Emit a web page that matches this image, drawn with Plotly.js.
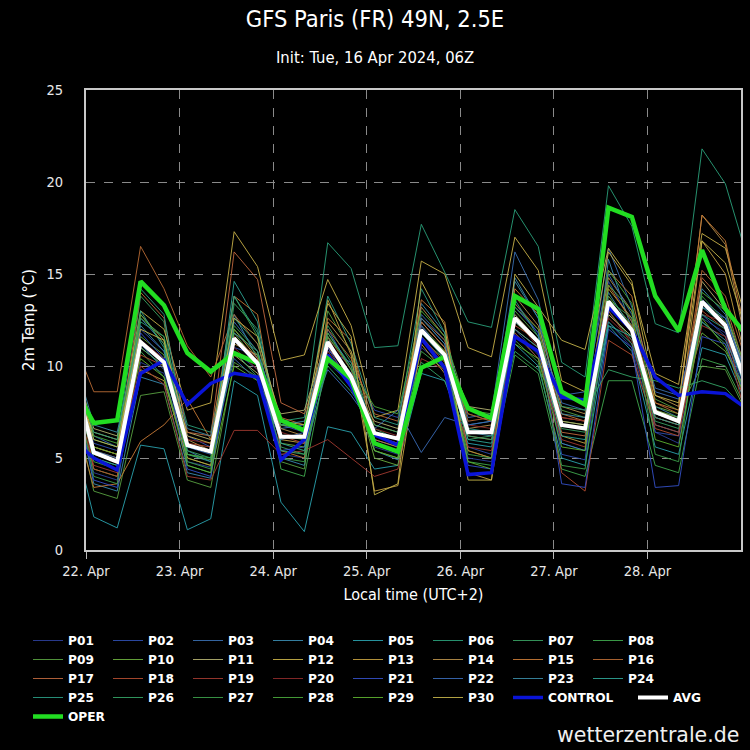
<!DOCTYPE html>
<html>
<head>
<meta charset="utf-8">
<script src="https://cdn.plot.ly/plotly-3.0.1.min.js"></script>
<style>html,body{margin:0;padding:0;background:#000;}#chart{width:750px;height:750px;}</style>
</head>
<body>
<div id="chart"></div>
<script>
// ---- DATA (local time UTC+2, 6-hourly) ----
const times = ['2024-04-21 20:00',
  '2024-04-22 02:00','2024-04-22 08:00','2024-04-22 14:00','2024-04-22 20:00',
  '2024-04-23 02:00','2024-04-23 08:00','2024-04-23 14:00','2024-04-23 20:00',
  '2024-04-24 02:00','2024-04-24 08:00','2024-04-24 14:00','2024-04-24 20:00',
  '2024-04-25 02:00','2024-04-25 08:00','2024-04-25 14:00','2024-04-25 20:00',
  '2024-04-26 02:00','2024-04-26 08:00','2024-04-26 14:00','2024-04-26 20:00',
  '2024-04-27 02:00','2024-04-27 08:00','2024-04-27 14:00','2024-04-27 20:00',
  '2024-04-28 02:00','2024-04-28 08:00','2024-04-28 14:00','2024-04-28 20:00',
  '2024-04-29 02:00'];

const P01 = [9.0,4.2,3.8,10.2,9.6,4.8,4.5,10.8,9.8,5.2,5.0,10.2,9.0,5.6,5.2,11.0,10.0,5.0,4.8,12.0,10.6,5.8,5.4,12.4,11.0,6.4,5.8,12.6,11.8,8.2];
const P02 = [10.5,5.8,5.4,12.0,10.8,6.2,5.6,11.0,10.6,6.8,6.4,10.8,10.2,7.6,7.2,12.6,11.2,5.6,5.2,13.4,11.8,5.2,4.9,14.6,12.4,6.4,6.2,12.8,11.6,8.0];
const P03 = [11.0,6.2,5.6,12.6,11.2,5.4,4.8,12.4,10.8,6.6,6.8,12.0,9.8,6.0,5.6,12.8,11.4,7.2,7.4,16.2,13.6,8.0,7.6,16.4,13.2,8.8,8.4,13.2,12.6,9.4];
const P04 = [9.8,3.6,3.2,9.4,9.0,4.2,3.9,12.8,10.4,5.0,4.6,11.4,9.2,5.4,4.9,13.4,11.8,6.8,7.0,14.8,12.6,5.8,5.4,15.8,12.0,6.8,6.4,14.2,12.8,8.8];
const P05 = [7.0,1.8,1.2,5.7,5.5,1.1,1.7,9.2,8.4,2.6,1.0,6.7,6.4,4.4,4.6,9.6,9.2,5.8,5.6,11.2,10.0,5.0,4.6,12.2,10.8,5.6,5.2,11.0,10.6,7.6];
const P06 = [10.0,6.0,5.6,12.4,11.6,6.8,6.4,12.6,11.2,7.0,7.2,16.7,15.3,11.0,11.1,17.7,15.1,12.4,12.1,18.5,16.5,10.2,9.4,19.8,17.6,12.3,11.8,21.8,19.9,15.6];
const P07 = [9.4,5.0,4.6,13.8,12.4,4.6,4.2,13.4,12.0,5.6,5.2,12.2,10.2,6.6,6.0,11.4,10.4,6.0,6.2,11.8,10.4,6.6,6.4,13.0,11.4,7.0,6.6,12.4,11.2,8.0];
const P08 = [10.6,4.8,4.4,10.8,9.4,5.2,5.0,13.8,11.6,4.4,4.0,10.6,8.8,6.2,5.8,10.8,9.8,4.8,4.6,10.6,9.6,4.4,4.0,9.2,9.2,4.6,4.2,10.4,10.0,7.4];
const P09 = [8.8,3.2,2.8,8.4,8.6,3.8,3.4,10.2,9.4,4.8,4.4,13.0,10.8,5.4,5.0,12.2,10.8,7.4,7.0,13.0,11.6,7.6,7.2,12.8,11.6,8.2,7.6,10.0,9.8,7.2];
const P10 = [9.6,4.4,4.0,11.6,10.6,5.0,4.6,11.8,10.2,5.8,5.6,10.4,9.6,5.0,4.6,11.6,10.2,5.4,5.0,12.4,11.2,7.0,6.8,13.8,12.2,7.8,7.4,11.8,10.8,8.4];
const P11 = [10.8,6.6,6.2,11.0,10.0,6.4,6.0,10.6,9.6,7.4,7.6,11.6,9.0,7.0,6.6,12.4,11.0,7.8,7.6,12.8,11.4,7.0,6.8,12.8,11.6,7.4,7.0,14.6,13.0,9.0];
const P12 = [9.0,6.4,6.0,13.0,12.0,7.6,8.0,17.3,15.4,10.3,10.6,14.7,12.2,7.2,7.6,15.7,15.0,11.0,10.5,17.0,15.2,9.2,8.6,16.2,14.4,9.6,9.0,17.2,16.4,12.0];
const P13 = [11.5,5.6,5.2,9.8,9.2,5.0,4.6,12.0,10.4,6.0,5.8,13.6,10.6,3.2,3.5,11.2,9.6,4.2,3.8,11.6,10.8,6.2,5.8,14.2,12.6,7.2,6.8,16.8,15.0,9.6];
const P14 = [10.4,5.4,5.0,12.8,11.4,6.0,5.4,11.2,10.6,6.6,6.2,12.4,10.8,6.8,6.4,13.2,11.6,6.6,6.8,13.8,12.2,7.8,7.4,14.8,13.0,8.4,7.8,18.2,16.6,10.4];
const P15 = [8.0,3.4,3.6,5.9,6.8,8.2,6.0,13.8,12.8,5.4,5.0,12.6,11.4,6.0,5.6,13.6,12.4,5.4,5.0,14.2,12.8,7.4,7.0,15.2,13.8,8.0,7.6,18.2,16.8,11.0];
const P16 = [11.8,8.6,8.6,16.5,14.2,11.1,9.4,12.8,11.2,7.2,6.8,12.0,10.4,7.4,7.0,12.6,11.4,7.0,7.2,13.4,12.0,7.2,7.0,14.4,12.4,8.0,7.4,15.2,13.8,9.8];
const P17 = [10.0,5.6,5.2,14.0,12.6,6.4,6.2,16.2,14.7,8.0,7.4,11.0,9.4,5.8,5.4,12.4,11.0,6.2,6.0,12.0,11.0,6.4,6.2,13.4,12.2,7.6,7.2,14.8,13.4,9.2];
const P18 = [11.0,4.4,4.0,10.6,10.0,5.8,5.6,11.6,10.4,6.2,5.8,11.6,9.8,6.2,5.8,12.0,10.8,7.4,7.0,12.2,11.4,4.2,3.2,11.4,10.6,6.6,6.2,13.0,12.0,7.0];
const P19 = [9.2,4.6,4.2,10.0,9.0,4.0,3.8,6.5,6.5,5.2,5.4,6.0,5.0,4.0,4.4,10.4,9.8,5.6,5.4,11.8,10.4,6.0,5.6,13.0,11.2,6.8,6.4,12.2,11.6,6.6];
const P20 = [10.6,5.2,4.8,11.4,10.4,6.0,5.8,11.0,9.8,6.4,6.0,10.8,9.2,6.6,6.2,11.6,10.2,6.8,6.6,12.6,11.0,7.2,7.0,12.6,11.4,7.2,6.8,12.8,12.4,8.4];
const P21 = [9.4,3.8,3.4,11.8,10.4,4.4,4.0,11.4,10.0,5.4,5.6,11.0,9.0,5.8,5.4,12.2,10.6,4.6,4.4,13.2,11.8,3.6,3.4,12.0,11.0,3.4,3.5,11.6,11.2,7.8];
const P22 = [10.2,5.4,5.0,11.2,9.8,5.6,5.2,10.4,9.2,6.0,6.4,9.8,8.4,6.6,7.6,5.3,7.2,6.8,7.0,12.4,11.4,8.4,8.6,15.0,12.8,8.6,8.2,13.6,12.6,9.2];
const P23 = [11.2,6.8,6.4,12.2,10.8,6.6,6.2,11.8,10.8,6.8,7.0,11.8,10.0,6.4,6.0,12.6,11.2,6.4,6.2,14.6,12.6,7.4,7.2,14.0,12.0,7.8,7.2,12.4,11.4,8.6];
const P24 = [9.8,5.0,4.6,13.0,11.0,5.2,4.8,14.6,12.4,5.8,5.4,11.2,9.6,6.4,6.0,11.8,10.4,6.0,5.8,12.0,11.0,6.2,6.0,12.2,11.6,7.2,6.8,13.2,12.2,8.8];
const P25 = [10.4,6.4,6.0,14.2,12.8,5.6,5.4,13.8,11.8,6.8,6.6,13.8,11.2,7.2,6.8,14.2,11.8,6.6,6.4,13.6,11.6,6.8,6.6,12.4,11.2,7.4,7.0,12.8,12.0,8.2];
const P26 = [9.2,5.2,4.8,11.0,10.0,5.4,5.0,10.8,9.4,5.4,5.2,10.0,8.6,6.8,6.4,10.2,9.2,6.2,6.0,10.8,9.8,7.8,7.6,9.8,9.4,9.2,8.8,9.2,8.8,7.4];
const P27 = [10.0,4.0,3.6,12.6,11.6,4.8,4.4,12.2,10.8,5.0,4.8,11.6,10.0,5.8,5.4,11.6,10.0,5.2,5.0,11.4,10.2,4.6,4.4,13.6,12.6,5.2,4.8,13.8,12.4,8.6];
const P28 = [11.4,6.2,5.8,12.8,11.2,5.2,4.9,12.0,10.6,6.2,6.0,11.8,9.8,7.8,7.4,13.0,11.6,7.6,7.4,13.2,12.0,6.8,6.6,15.2,13.4,7.6,7.2,14.0,13.0,9.4];
const P29 = [9.6,5.6,5.2,10.4,9.4,4.6,4.2,10.0,9.2,6.8,6.6,10.6,9.4,5.4,5.0,12.0,10.8,4.8,4.4,11.2,10.4,5.6,5.4,14.4,13.0,6.0,5.6,12.6,11.0,7.8];
const P30 = [10.8,6.0,5.6,12.0,11.4,6.2,5.8,12.6,11.6,7.0,6.8,13.4,11.6,3.0,3.6,14.6,12.2,3.8,3.8,15.0,13.2,11.4,10.9,16.4,14.6,8.4,8.0,16.8,15.6,11.4];

const CONTROL = [6.1,5.0,4.35,9.6,10.3,7.9,9.05,9.6,9.4,4.9,6.0,10.6,8.9,6.25,5.7,11.5,9.9,4.1,4.2,11.6,10.8,8.3,8.15,13.2,11.95,9.4,8.4,8.6,8.5,7.6];
const AVG = [10.2,5.3,4.8,11.3,10.2,5.7,5.35,11.5,10.15,6.15,6.15,11.3,9.4,6.35,6.05,11.95,10.6,6.4,6.4,12.6,11.3,6.8,6.6,13.5,11.95,7.5,7.0,13.5,12.2,8.6];
const OPER = [9.2,6.9,7.05,14.6,13.3,10.7,9.7,10.7,10.15,7.05,6.5,10.4,9.3,5.8,5.35,9.9,10.5,7.7,7.15,13.8,13.1,8.6,7.9,18.6,18.1,13.8,11.9,16.3,13.1,11.5];

const memberNames = ['P01','P02','P03','P04','P05','P06','P07','P08','P09','P10',
  'P11','P12','P13','P14','P15','P16','P17','P18','P19','P20',
  'P21','P22','P23','P24','P25','P26','P27','P28','P29','P30'];
const memberValues = [P01,P02,P03,P04,P05,P06,P07,P08,P09,P10,P11,P12,P13,P14,P15,
  P16,P17,P18,P19,P20,P21,P22,P23,P24,P25,P26,P27,P28,P29,P30];

const tickDays = ['2024-04-22','2024-04-23','2024-04-24','2024-04-25','2024-04-26','2024-04-27','2024-04-28'];
const tickLabels = ['22. Apr','23. Apr','24. Apr','25. Apr','26. Apr','27. Apr','28. Apr'];
const yTicks = [0, 5, 10, 15, 20, 25];

// ---- STYLE ----
const memberColors = ['#2c3f9a','#2f4fb0','#3a6fb0','#3a8cb0','#2aa2ae','#2aa07a','#38a062','#3fa84e','#58a040','#6cae3e',
  '#b4b070','#c8b048','#c4a040','#b8904a','#c87a36','#b86a34','#c0683e','#b44c30','#a23a30','#8e2a2a',
  '#3450c8','#3a6cb8','#3a8ca6','#2ea496','#2a9c84','#34a466','#3ca04a','#4aaa3c','#5eb230','#c4b44a'];

const condensed = '"DejaVu Sans Condensed", "Liberation Sans Narrow", "DejaVu Sans", sans-serif';
const legendFont = {family: '"DejaVu Sans", sans-serif', size: 12.2, color: '#ffffff', weight: 'bold'};

// legend columns: 8 columns laid out like the reference (text starts at 68 + 80*col px)
const legendId = c => (c === 0 ? 'legend' : 'legend' + (c + 1));
function legendBox(textLeftPx, topPx) {
  return {orientation: 'v', xref: 'paper', yref: 'paper',
    x: (textLeftPx - 40 - 86) / 655, xanchor: 'left',
    y: (550 - topPx) / 460, yanchor: 'top',
    itemwidth: 30, traceorder: 'normal', bgcolor: 'rgba(0,0,0,0)', borderwidth: 0,
    font: legendFont};
}

const traces = [];
memberValues.forEach((vals, i) => {
  traces.push({x: times, y: vals, type: 'scatter', mode: 'lines', name: memberNames[i],
    line: {color: memberColors[i], width: 1}, opacity: 0.9, legendrank: i + 1,
    legend: legendId(i % 8)});
});
traces.push({x: times, y: CONTROL, type: 'scatter', mode: 'lines', name: 'CONTROL',
  line: {color: '#0a14d8', width: 3.5}, legendrank: 31, legend: legendId(6)});
traces.push({x: times, y: OPER, type: 'scatter', mode: 'lines', name: 'OPER',
  line: {color: '#22dd22', width: 4.5}, legendrank: 33, legend: legendId(0)});
traces.push({x: times, y: AVG, type: 'scatter', mode: 'lines', name: 'AVG',
  line: {color: '#ffffff', width: 4}, legendrank: 32, legend: 'legend9'});

const layout = {
  width: 750, height: 750,
  paper_bgcolor: '#000', plot_bgcolor: '#000',
  margin: {l: 86, r: 9, t: 90, b: 200, autoexpand: false},
  font: {family: condensed, color: '#e8e8e8', size: 13},
  title: {text: 'GFS Paris (FR) 49N, 2.5E', xref: 'container', x: 0.5, xanchor: 'center',
    yref: 'container', y: 0.975, yanchor: 'middle',
    font: {family: condensed, size: 23.5, color: '#ffffff'}},
  showlegend: true,
  xaxis: {
    type: 'date', range: ['2024-04-22 00:00', '2024-04-29 00:00'],
    tickmode: 'array', tickvals: tickDays, ticktext: tickLabels,
    ticks: 'outside', ticklen: 7, tickcolor: '#bbbbbb', tickwidth: 1,
    showgrid: true, gridcolor: '#8a8a8a', griddash: 'dash', gridwidth: 1,
    showline: true, linecolor: '#c8c8c8', linewidth: 2, mirror: true,
    zeroline: false, automargin: false,
    tickfont: {family: condensed, size: 14.5, color: '#e8e8e8'},
    title: {text: 'Local time (UTC+2)', standoff: 10, font: {family: condensed, size: 16, color: '#ffffff'}}
  },
  yaxis: {
    range: [0, 25], tickmode: 'array', tickvals: yTicks,
    ticks: '', ticklabelstandoff: 18,
    showgrid: true, gridcolor: '#8a8a8a', griddash: 'dash', gridwidth: 1,
    showline: true, linecolor: '#c8c8c8', linewidth: 2, mirror: true,
    zeroline: false, automargin: false,
    tickfont: {family: condensed, size: 14.5, color: '#e8e8e8'},
    title: {text: '2m Temp (°C)', standoff: 8, font: {family: condensed, size: 16.5, color: '#ffffff'}}
  },
  annotations: [
    {text: 'Init: Tue, 16 Apr 2024, 06Z', xref: 'paper', yref: 'paper', x: 0.441, y: 1.0717,
      xanchor: 'center', yanchor: 'middle', showarrow: false,
      font: {family: condensed, size: 16.5, color: '#ffffff'}},
    {text: 'wetterzentrale.de', xref: 'paper', yref: 'paper', x: 1.0, y: -0.402,
      xanchor: 'right', yanchor: 'middle', showarrow: false,
      font: {family: '"DejaVu Sans", sans-serif', size: 20.5, color: '#f0f0f0'}}
  ]
};
for (let c = 0; c < 8; c++) layout[legendId(c)] = legendBox(68 + 80 * c, 626);
layout.legend9 = legendBox(673, 683);

Plotly.newPlot('chart', traces, layout, {displayModeBar: false, staticPlot: true});
</script>
</body>
</html>
